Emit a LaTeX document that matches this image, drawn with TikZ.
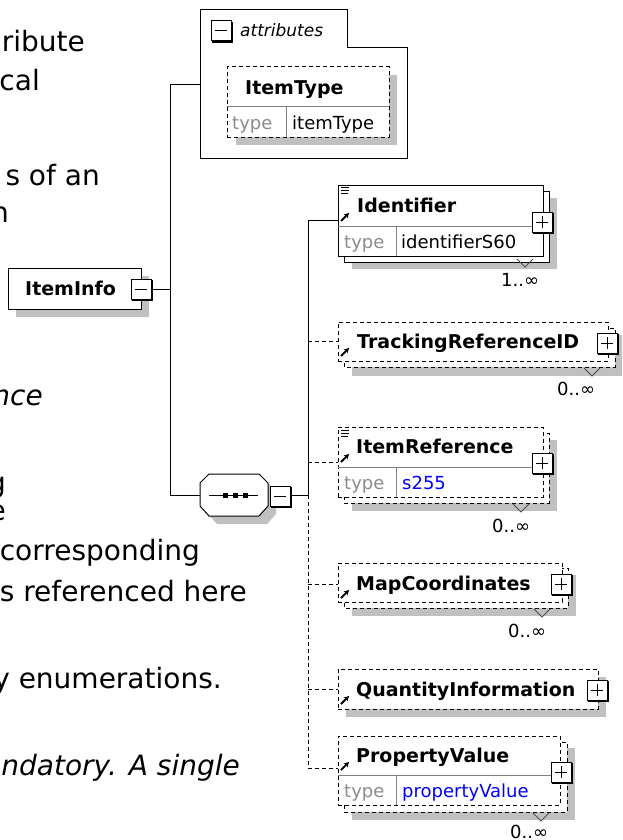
\documentclass[tikz,border=0pt]{standalone}
\usepackage{fontspec}
\setmainfont{DejaVu Sans}
\usetikzlibrary{arrows.meta}
\definecolor{shadowgray}{HTML}{C0C0C0}
\definecolor{typegray}{HTML}{8C8C8C}
\definecolor{divgray}{HTML}{808080}
\definecolor{xblue}{HTML}{0000FF}
\tikzset{
  lefttxt/.style={inner sep=0, anchor=base east, font=\fontsize{28}{34}\selectfont},
  ename/.style={inner sep=0, anchor=base west, font=\bfseries\fontsize{19}{22}\selectfont},
  tlabel/.style={inner sep=0, anchor=base west, text=typegray, font=\fontsize{18}{22}\selectfont},
  tval/.style={inner sep=0, anchor=base west, font=\fontsize{18}{22}\selectfont},
  mult/.style={inner sep=0, anchor=base west, font=\fontsize{18}{22}\selectfont},
  shd/.style={fill=shadowgray, draw=none},
  sbox/.style={draw=black, fill=white, line width=1pt, inner sep=0, outer sep=0},
  dbox/.style={sbox, dash pattern=on 4pt off 3pt},
  divline/.style={draw=divgray, line width=1pt},
  conn/.style={line width=1pt},
  dconn/.style={line width=1pt, dash pattern=on 4pt off 3pt},
  vmark/.style={draw=black!70, line width=1pt},
  refarrow/.style={line width=1.8pt, -{Stealth[length=5pt,width=5.5pt]}},
  xbtn/.pic={
    \fill[white] (-10,-10) rectangle (10,10);
    \draw[line width=1pt] (-10,-10) rectangle (10,10);
    \draw[line width=2.5pt] (11,-9) -- (11,11) -- (-9,11);
  },
  plusbtn/.pic={\pic{xbtn}; \draw[line width=1pt] (-6,0) -- (6,0) (0,-6) -- (0,6);},
  minusbtn/.pic={\pic{xbtn}; \draw[line width=1pt] (-6,0) -- (6,0);}
}
\newcommand\eqicon[2]{\draw[line width=0.9pt] (#1,#2) -- ++(8,0) (#1,#2+3) -- ++(8,0) (#1,#2+6) -- ++(7,0);}
\begin{document}
\begin{tikzpicture}[x=1pt,y=-1pt]
\clip (0,0) rectangle (622,840);
\fill[white] (0,0) rectangle (622,840);

% ---- background text fragments ----
\node[lefttxt] (l1) at (85,52) {ribute};
\node[lefttxt] (l2) at (40,91) {cal};
\node[lefttxt] (l3) at (100,185) {s of an};
\node[lefttxt] (l4) at (9,222) {n};
\node[lefttxt, font=\itshape\fontsize{28}{34}\selectfont] (l5) at (43,405) {nce};
\node[lefttxt] (l6) at (6,492) {g};
\node[lefttxt] (l7) at (6,520) {e};
\node[lefttxt] (l8) at (200,560) {corresponding};
\node[lefttxt] (l9) at (247,601) {s referenced here};
\node[lefttxt] (l10) at (222,688) {y enumerations.};
\node[lefttxt, font=\itshape\fontsize{28}{34}\selectfont] (l11) at (240,775) {ndatory. A single};

% ---- ItemInfo ----
\fill[shd] (16,276) rectangle (149,317);
\node[sbox, minimum width=133, minimum height=41] (iteminfo) at (74.5,288.5) {};
\node[ename] (iteminfoT) at (25,295) {ItemInfo};
\pic at (141,289) {minusbtn};
\coordinate (iiout) at (152,289);
\coordinate (j1) at (170,289);
\coordinate (t1top) at (170,85);
\coordinate (t1bot) at (170,495);
\draw[conn] (iiout) -- (j1);
\draw[conn] (t1top) -- (t1bot);

% ---- attributes group ----
\draw[line width=1pt, fill=white] (200,10) -- (347,10) -- (347,48) -- (407,48) -- (407,158) -- (200,158) -- cycle;
\node[inner sep=0, minimum width=207, minimum height=148] (attrs) at (303.5,84) {};
\draw[conn] (t1top) -- (t1top -| attrs.west);
\pic at (221,31) {minusbtn};
\node[inner sep=0, anchor=base west, font=\itshape\fontsize{17}{22}\selectfont] (attrT) at (240,37) {attributes};
\fill[shd] (236,75) rectangle (397,145);
\node[dbox, minimum width=162, minimum height=70] (itemtype) at (308,102) {};
\draw[divline] (227,107) -- (389,107);
\draw[divline] (286,107) -- (286,137);
\node[ename] (itemtypeT) at (245,95) {ItemType};
\node[tlabel] (itemtypeL) at (232,129) {type};
\node[tval] (itemtypeV) at (292,129) {itemType};

% ---- sequence ----
\fill[shd] (217,482) -- (267,482) -- (276,491) -- (276,514) -- (267,524) -- (217,524) -- (208,514) -- (208,491) -- cycle;
\draw[line width=1pt, fill=white] (209,474) -- (259,474) -- (268,483) -- (268,506) -- (259,516) -- (209,516) -- (200,506) -- (200,483) -- cycle;
\node[inner sep=0, minimum width=68, minimum height=42] (seq) at (234,495) {};
\draw[line width=1pt] (209,495) -- (258,495);
\foreach \sx in {225,235,245} \fill (\sx-2.5,492.5) rectangle (\sx+2.5,497.5);
\draw[conn] (t1bot) -- (seq.west);
\pic at (280,496) {minusbtn};
\coordinate (seqout) at (292,495);
\coordinate (t2j) at (308,495);
\coordinate (t2top) at (308,220.5);
\coordinate (t2bot) at (308,768);
\draw[conn] (seqout) -- (t2j);
\draw[conn] (t2top) -- (t2j);
\draw[dconn] (t2j) -- (t2bot);

% ---- Identifier ----
\fill[shd] (352,198) rectangle (557,269);
\draw[line width=1pt, fill=white] (344,191) rectangle (549,262);
\node[sbox, minimum width=205, minimum height=71] (ident) at (440.5,220.5) {};
\draw[divline] (338,226) -- (543,226);
\draw[divline] (396,226) -- (396,256);
\eqicon{341}{187}
\draw[refarrow] (341,221) -- (349,213);
\node[ename] (identT) at (357,212) {Identifier};
\node[tlabel] (identL) at (344,248) {type};
\node[tval] (identV) at (401,248) {identifierS60};
\pic at (542,222) {plusbtn};
\draw[vmark] (517,259) -- (525,267) -- (533,259);
\node[mult] (identM) at (501,286) {1..∞};
\draw[conn] (t2top) -- (ident.west);

% ---- TrackingReferenceID ----
\fill[shd] (352,335) rectangle (623,376);
\draw[line width=1pt, fill=white, dash pattern=on 4pt off 3pt] (344,328) rectangle (615,367);
\node[dbox, minimum width=270, minimum height=39] (track) at (473,341.5) {};
\draw[refarrow] (341,356) -- (349,348);
\node[ename] (trackT) at (357,348) {TrackingReferenceID};
\pic at (607,343) {plusbtn};
\draw[vmark] (584,368) -- (592,376) -- (600,368);
\coordinate (b2) at (308,341.5);
\draw[dconn] (b2) -- (track.west);
\node[mult] (trackM) at (557,395) {0..∞};

% ---- ItemReference ----
\fill[shd] (352,440) rectangle (557,511);
\draw[line width=1pt, fill=white, dash pattern=on 4pt off 3pt] (344,433) rectangle (549,503);
\node[dbox, minimum width=205, minimum height=70] (itemref) at (440.5,462) {};
\draw[divline] (338,467) -- (543,467);
\draw[divline] (396,467) -- (396,497);
\eqicon{341}{430}
\draw[refarrow] (341,462) -- (349,454);
\node[ename] (itemrefT) at (356,453) {ItemReference};
\node[tlabel] (itemrefL) at (344,489) {type};
\node[tval, text=xblue] (itemrefV) at (402,489) {s255};
\pic at (542,463) {plusbtn};
\draw[vmark] (513,504) -- (521,512) -- (529,504);
\coordinate (b3) at (308,462);
\draw[dconn] (b3) -- (itemref.west);
\node[mult] (itemrefM) at (492,532) {0..∞};

% ---- MapCoordinates ----
\fill[shd] (352,575) rectangle (576,616);
\draw[line width=1pt, fill=white, dash pattern=on 4pt off 3pt] (344,568) rectangle (568,608);
\node[dbox, minimum width=224, minimum height=39] (mapc) at (450,582.5) {};
\draw[refarrow] (341,598) -- (349,590);
\node[ename] (mapcT) at (356,590) {MapCoordinates};
\pic at (561,584) {plusbtn};
\draw[vmark] (534,609) -- (542,617) -- (550,609);
\coordinate (b4) at (308,584);
\draw[dconn] (b4) -- (b4 -| mapc.west);
\node[mult] (mapcM) at (508,637) {0..∞};

% ---- QuantityInformation ----
\fill[shd] (346,677) rectangle (606,717);
\node[dbox, minimum width=260, minimum height=40] (qty) at (468,689) {};
\draw[refarrow] (341,704) -- (349,696);
\node[ename] (qtyT) at (356,696) {QuantityInformation};
\pic at (597,690) {plusbtn};
\coordinate (b5) at (308,689);
\draw[dconn] (b5) -- (qty.west);

% ---- PropertyValue ----
\fill[shd] (352,748) rectangle (575,820);
\draw[line width=1pt, fill=white, dash pattern=on 4pt off 3pt] (344,742) rectangle (567,812);
\node[dbox, minimum width=222, minimum height=69] (propv) at (449,770.5) {};
\draw[divline] (338,775) -- (560,775);
\draw[divline] (396,775) -- (396,805);
\draw[refarrow] (341,770) -- (349,762);
\node[ename] (propvT) at (356,762) {PropertyValue};
\node[tlabel] (propvL) at (344,797) {type};
\node[tval, text=xblue] (propvV) at (402,797) {propertyValue};
\pic at (561,772) {plusbtn};
\draw[vmark] (533,813) -- (541,821) -- (549,813);
\draw[dconn] (t2bot) -- (t2bot -| propv.west);
\node[mult] (propvM) at (510,838) {0..∞};
\end{tikzpicture}
\end{document}
